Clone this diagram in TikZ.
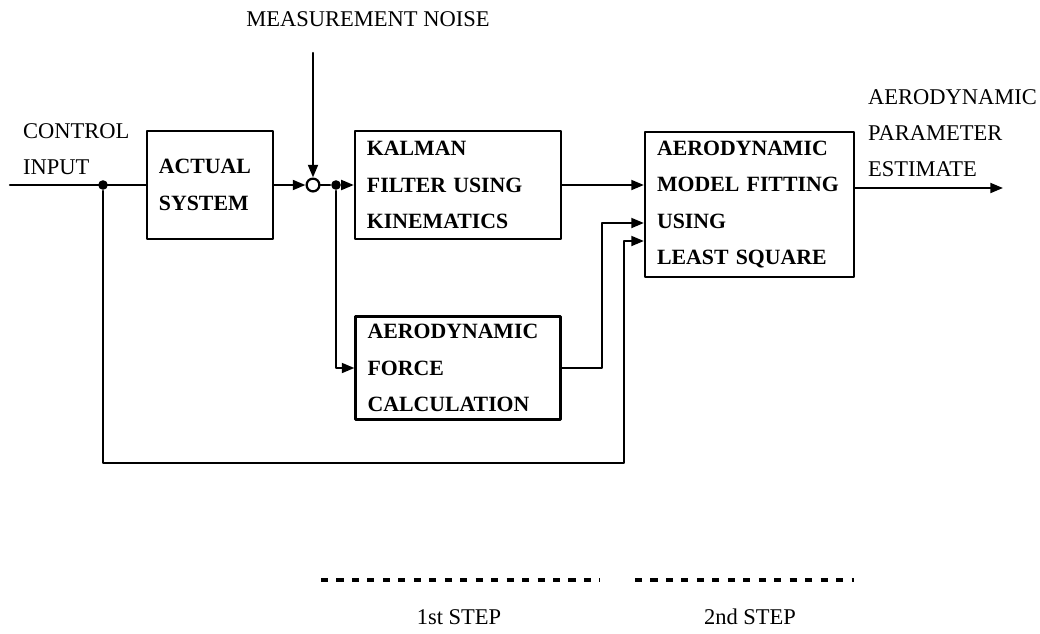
\documentclass[tikz,border=0pt]{standalone}
\usepackage{fontspec}
\setmainfont{Liberation Serif}
\usetikzlibrary{arrows.meta,positioning,calc}

\begin{document}
\begin{tikzpicture}[x=0.025cm, y=-0.025cm, >={Triangle[length=9pt,width=7pt]},
		line width=1.6pt, line cap=round, line join=round,
		blk/.style={draw, line width=1.6pt, align=left, inner xsep=0.3cm, inner ysep=0pt,
			font=\fontsize{15.5}{26}\selectfont\bfseries},
		lbl/.style={align=left, inner sep=0pt, font=\fontsize{16}{25.5}\selectfont},
		jdot/.style={circle, fill=black, inner sep=0pt, minimum size=0.24cm},
		sumpt/.style={circle, draw, line width=1.6pt, fill=white, inner sep=0pt, minimum size=0.32cm},
		stepline/.style={line width=2.4pt, line cap=butt, dash pattern=on 5pt off 6pt}]
	\useasboundingbox (0,0) rectangle (1040,633);

	% (1) blocks
	\node[blk, text width=2.55cm, minimum height=2.7cm] (actual) at (210,185) {ACTUAL\\SYSTEM};
	\node[blk, text width=4.55cm, minimum height=2.7cm] (kalman) at (458,185) {KALMAN\\FILTER USING\\KINEMATICS};
	\node[blk, text width=4.52cm, minimum height=2.575cm] (force) at (458,368) {AERODYNAMIC\\FORCE\\CALCULATION};
	\node[blk, text width=4.62cm, minimum height=3.625cm] (model) at (749.5,204.5) {AERODYNAMIC\\MODEL FITTING\\USING\\LEAST SQUARE};

	% (2) junctions
	\node[jdot] (j_in) at (103,185) {};
	\node[sumpt] (sum) at (313,185) {};
	\node[jdot] (j_meas) at (336,185) {};

	\coordinate (ctrl_start) at (10,185);
	\coordinate (noise_top) at (313,53);
	\coordinate (force_up) at (602,223);
	\coordinate (model_in2) at (model.west |- 0,223);
	\coordinate (model_in3) at (model.west |- 0,241);
	\coordinate (fb_corner) at (624,463);
	\coordinate (model_out) at (model.east |- 0,188);
	\coordinate (est_end) at (1003,188);

	% (3) labels
	\node[lbl] (noise_lbl) at (368,19) {MEASUREMENT NOISE};
	\node[lbl, anchor=west] (ctrl_lbl) at (22,149) {CONTROL\\INPUT};
	\node[lbl, anchor=west] (est_lbl) at (867,133) {AERODYNAMIC\\PARAMETER\\ESTIMATE};

	% (4) connections
	\draw (ctrl_start) -- (actual.west);
	\draw[->] (actual.east) -- (sum.west);
	\draw[->] (noise_top) -- (sum.north);
	\draw (sum.east) -- (j_meas);
	\draw[->] (j_meas) -- (kalman.west);
	\draw[->] (j_meas) |- (force.west);
	\draw[->] (kalman.east) -- (kalman.east -| model.west);
	\draw[->] (force.east) -| (force_up) -- (model_in2);
	\draw[->] (j_in) |- (fb_corner) |- (model_in3);
	\draw[->] (model_out) -- (est_end);

	% (5) steps
	\draw[stepline] (321,580) -- (600,580);
	\draw[stepline] (635,580) -- (854,580);
	\node[lbl] (step1) at (459,617) {1st STEP};
	\node[lbl] (step2) at (750,617) {2nd STEP};
\end{tikzpicture}
\end{document}
